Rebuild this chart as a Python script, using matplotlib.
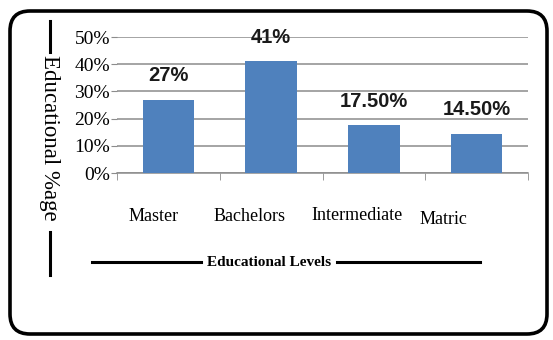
import matplotlib.pyplot as plt
import matplotlib.transforms as mtransforms
from matplotlib.patches import FancyBboxPatch
from matplotlib.lines import Line2D

levels = ['Master', 'Bachelors', 'Intermediate', 'Matric']
shares = [27, 41, 17.5, 14.5]
share_labels = ['27%', '41%', '17.50%', '14.50%']
y_ticks = [0, 10, 20, 30, 40, 50]

W, H = 553, 340
fig = plt.figure(figsize=(W / 100, H / 100), dpi=100)

# overlay in pixel units for the rounded frame and the rule lines
bg = fig.add_axes([0, 0, 1, 1], zorder=0)
bg.set_xlim(0, W)
bg.set_ylim(H, 0)
bg.axis('off')
bg.patch.set_alpha(0)
bg.add_patch(FancyBboxPatch((10, 11), 537, 323,
                            boxstyle='round,pad=0,rounding_size=20',
                            fill=False, edgecolor='black', linewidth=2.6))
for xs, ys in [([50, 50], [21, 52]), ([50, 50], [232, 275]),
               ([92, 201], [262, 262]), ([337, 480], [262, 262])]:
    bg.add_line(Line2D(xs, ys, color='black', linewidth=2.2))
bg.text(49, 55, 'Educational %age', rotation=-90, ha='center', va='top',
        family='Liberation Serif', fontsize=16.5)
bg.text(269, 262, 'Educational Levels', ha='center', va='center',
        family='Liberation Serif', fontweight='bold', fontsize=11)

ax = fig.add_axes([117 / W, 1 - 173 / H, (528 - 117) / W, (173 - 37) / H], zorder=1)
ax.patch.set_alpha(0)
ax.bar(range(len(levels)), shares, width=0.5, color='#4F81BD', zorder=3)
for i, (v, lab) in enumerate(zip(shares, share_labels)):
    ax.text(i, v + 8.8, lab, ha='center', va='center', fontsize=14.5,
            fontweight='bold', family='Liberation Sans', color='#1a1a1a')

ax.set_xlim(-0.5, len(levels) - 0.5)
ax.set_ylim(0, 50)
ax.set_yticks(y_ticks, [f'{t}%' for t in y_ticks], family='Liberation Serif', fontsize=14)
ax.yaxis.grid(True, color='#8c8c8c', linewidth=1.1, zorder=0)
ax.tick_params(axis='y', length=4, color='#8c8c8c', pad=1)
for s in ['left', 'right', 'top']:
    ax.spines[s].set_visible(False)
ax.spines['bottom'].set_color('#8c8c8c')
ax.spines['bottom'].set_linewidth(1.1)

ax.set_xticks([i - 0.5 for i in range(len(levels) + 1)], minor=True)
ax.tick_params(axis='x', which='minor', length=5, color='#8c8c8c')
ax.set_xticks(range(len(levels)), levels, family='Liberation Serif', fontsize=13)
ax.tick_params(axis='x', which='major', length=0, pad=25)
shifts = [(-15, 0), (-22, 0), (-17, 1), (-33, -3)]
for lab, (dx, dy) in zip(ax.get_xticklabels(), shifts):
    lab.set_transform(lab.get_transform() +
                      mtransforms.Affine2D().translate(dx, dy))

fig.savefig('out.png', dpi=100)
